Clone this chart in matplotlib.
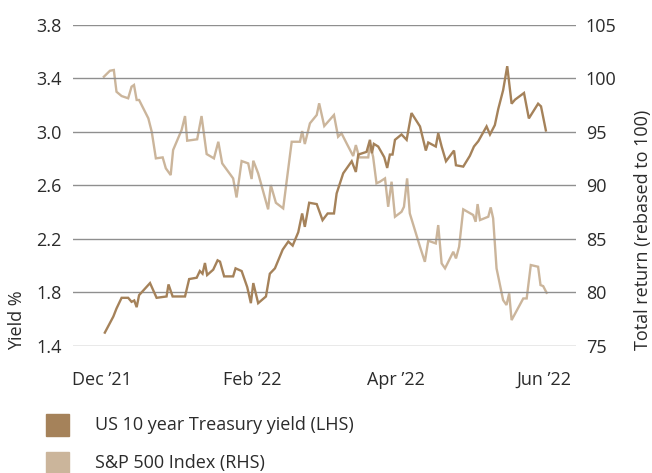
import numpy as np
import pandas as pd
import matplotlib
matplotlib.use("Agg")
import matplotlib.pyplot as plt
from matplotlib.patches import Rectangle

plt.rcParams['font.family'] = ['Open Sans', 'DejaVu Sans']

# days since 1 Dec 2021
yield_days = [1.2, 4.7, 6.0, 8.1, 10.8, 12.2, 13.3, 14.3, 15.3, 19.8, 22.5, 26.6, 27.4, 29.1,
              34.2, 35.9, 39.0, 40.3, 41.4, 42.4, 43.3, 45.8, 47.6, 48.6, 50.3, 54.0, 55.0,
              57.5, 59.8, 61.3, 62.3, 64.3, 67.5, 69.1, 71.2, 74.4, 76.7, 78.5, 80.8, 82.4,
              83.5, 85.3, 88.4, 90.8, 92.9, 95.5, 96.6, 99.3, 102.8, 104.5, 105.5, 108.9,
              110.3, 111.1, 111.9, 113.7, 116.2, 117.4, 118.5, 119.6, 120.6, 123.3, 125.4,
              127.4, 130.9, 133.3, 134.3, 137.4, 138.4, 139.8, 141.6, 144.9, 145.7, 148.7,
              151.4, 153.1, 154.9, 158.3, 159.7, 161.7, 163.1, 165.1, 166.8, 168.6, 170.0,
              173.7, 175.7, 179.5, 180.7, 182.7]
yield_vals = [1.50, 1.62, 1.68, 1.76, 1.76, 1.73, 1.74, 1.69, 1.78, 1.87, 1.76, 1.77, 1.86, 1.77,
              1.77, 1.90, 1.91, 1.96, 1.94, 2.02, 1.93, 1.97, 2.04, 2.03, 1.92, 1.92, 1.98,
              1.96, 1.84, 1.72, 1.87, 1.72, 1.77, 1.94, 1.98, 2.12, 2.18, 2.15, 2.25, 2.39,
              2.29, 2.47, 2.46, 2.34, 2.39, 2.39, 2.54, 2.69, 2.78, 2.70, 2.83, 2.85,
              2.94, 2.84, 2.91, 2.89, 2.81, 2.73, 2.83, 2.83, 2.94, 2.98, 2.94,
              3.14, 3.04, 2.86, 2.92, 2.89, 2.99, 2.89, 2.78, 2.86, 2.75, 2.74,
              2.82, 2.89, 2.93, 3.04, 2.98, 3.05, 3.17, 3.31, 3.49, 3.21, 3.24,
              3.29, 3.10, 3.21, 3.19, 3.01]

spx_days = [0.8, 3.3, 4.9, 6.0, 8.1, 10.8, 12.2, 13.2, 14.3, 15.3, 19.1, 20.5, 22.2, 25.0,
            26.3, 28.3, 29.3, 32.8, 34.2, 35.1, 39.2, 41.0, 43.1, 46.1, 47.9, 49.5, 54.0,
            55.4, 57.5, 60.2, 61.6, 62.3, 64.3, 68.4, 69.5, 71.6, 74.6, 78.1, 81.5, 82.4,
            83.5, 85.6, 88.4, 89.4, 91.5, 95.5, 97.2, 98.6, 100.7, 103.4, 104.5, 105.9,
            109.6, 110.3, 111.6, 113.0, 114.4, 116.5, 117.8, 119.2, 120.6, 123.3, 124.3,
            125.6, 126.7, 130.9, 132.9, 134.3, 137.4, 138.4, 139.8, 141.2, 144.6, 145.7,
            147.0, 148.7, 152.8, 153.8, 154.6, 155.6, 159.0, 160.0, 161.0, 162.4, 165.1,
            166.5, 167.6, 168.6, 173.4, 174.8, 176.5, 179.5, 180.5, 181.6, 183.0]
spx_vals = [100.14, 100.70, 100.77, 98.74, 98.34, 98.13, 99.21, 99.37, 97.97, 97.97, 96.26,
            95.01, 92.52, 92.61, 91.59, 90.96, 93.30, 95.17, 96.47, 94.17, 94.30, 96.47,
            92.92, 92.52, 94.07, 92.05, 90.65, 88.87, 92.27, 92.05, 90.59, 92.30, 91.12,
            87.76, 90.03, 88.37, 87.85, 94.07, 94.07, 95.07, 93.86, 95.79, 96.57, 97.66,
            95.54, 96.57, 94.54, 94.86, 93.92, 92.74, 93.76, 92.61, 92.61, 93.86, 92.67,
            90.19, 90.34, 90.65, 88.00, 90.34, 87.07, 87.53, 88.00, 90.65, 87.38, 84.27,
            82.86, 84.83, 84.58, 86.29, 82.71, 82.25, 83.80, 83.18, 84.27, 87.76, 87.23,
            86.60, 88.25, 86.76, 87.07, 87.94, 86.92, 82.25, 79.29, 78.83, 79.91, 77.42,
            79.44, 79.44, 82.56, 82.40, 80.69, 80.59, 79.97]

tick_dates = ['2021-12-01', '2022-02-01', '2022-04-01', '2022-06-01']
tick_labels = ['Dec \u201921', 'Feb \u201922', 'Apr \u201922', 'Jun \u201922']
left_ticks = [1.4, 1.8, 2.2, 2.6, 3.0, 3.4, 3.8]
right_ticks = [75, 80, 85, 90, 95, 100, 105]

legend_labels = ['US 10 year Treasury yield (LHS)', 'S&P 500 Index (RHS)']
BROWN = '#a5825a'
TAN = '#cbb59b'
TEXT = '#2b2b2b'

start = pd.Timestamp('2021-12-01')
yield_x = start + pd.to_timedelta(yield_days, unit='D')
spx_x = start + pd.to_timedelta(spx_days, unit='D')

fig = plt.figure(figsize=(6.52, 4.73), dpi=100)
ax = fig.add_axes([73 / 652, 1 - 346 / 473, 503 / 652, 321.3 / 473])
ax2 = ax.twinx()

ax2.plot(spx_x, spx_vals, color=TAN, lw=1.7, solid_joinstyle='miter')
ax.plot(yield_x, yield_vals, color=BROWN, lw=1.7, solid_joinstyle='miter')

# yield line on top of the index line
ax.set_zorder(ax2.get_zorder() + 1)
ax.patch.set_visible(False)

ax.set_ylim(1.4, 3.8)
ax2.set_ylim(75, 105)
ax.set_xlim(start - pd.Timedelta(days=11.9), start + pd.Timedelta(days=195.1))

ax.set_yticks(left_ticks)
ax.set_yticklabels([f'{t:.1f}' for t in left_ticks])
ax2.set_yticks(right_ticks)
ax.set_xticks(pd.to_datetime(tick_dates))
ax.set_xticklabels(tick_labels)

ax.grid(axis='y', color='#8f8f8f', lw=1.0)
ax.set_axisbelow(True)

for a in (ax, ax2):
    for s in a.spines.values():
        s.set_visible(False)
    a.tick_params(length=0, labelsize=13, labelcolor=TEXT)
ax.tick_params(axis='y', pad=8)
ax2.tick_params(axis='y', pad=7)
ax.tick_params(axis='x', pad=18)

ax.set_ylabel('Yield %', fontsize=13, color=TEXT, loc='bottom')
ax.yaxis.set_label_coords(-0.094, -0.012)
ax2.set_ylabel('Total return (rebased to 100)', fontsize=13, color=TEXT, loc='bottom')
ax2.yaxis.set_label_coords(1.115, -0.012)

# legend swatches and labels
for i, (lab, col) in enumerate(zip(legend_labels, [BROWN, TAN])):
    y_top = 414 + i * 38
    fig.patches.append(Rectangle((46 / 652, 1 - (y_top + 22) / 473), 23 / 652, 22 / 473,
                                 transform=fig.transFigure, color=col, figure=fig))
    fig.text(95 / 652, 1 - (y_top + 11) / 473, lab, fontsize=13, color=TEXT, va='center')

fig.savefig('out.png', dpi=100)
